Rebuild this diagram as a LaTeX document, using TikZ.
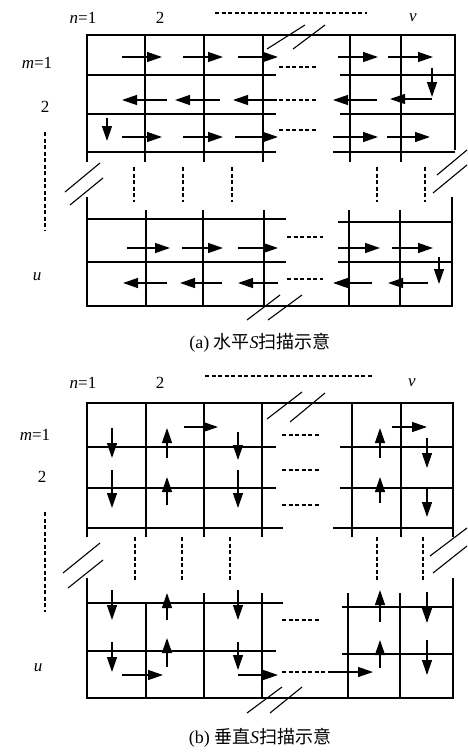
\documentclass[tikz,border=0pt]{standalone}
\usepackage{fontspec}
\setmainfont{Liberation Serif}
\newfontfamily\cjk{Noto Sans CJK SC}
\usetikzlibrary{arrows.meta}

\begin{document}
\begin{tikzpicture}[x=1pt, y=-1pt, line width=1.2pt,
  scan/.style={line width=1.3pt, -{Triangle[length=15pt,width=10pt]}},
  gap/.style={dash pattern=on 4pt off 2.5pt, line width=1.3pt},
  brk/.style={line width=1.1pt},
  lbl/.style={font=\fontsize{17}{17}\selectfont},
  captxt/.style={font=\fontsize{18}{18}\selectfont}]
  \useasboundingbox (0,0) rectangle (468,752);

  % ===== (a) horizontal S scan =====
  % frame
  \draw (87,162) -- (87,35) -- (455,35) -- (455,150);
  \draw (87,197) -- (87,306) -- (452,306) -- (452,197);
  % grid, upper block
  \foreach \y in {75,114} {\draw (87,\y) -- (276,\y); \draw (340,\y) -- (455,\y);}
  \draw (87,152) -- (276,152); \draw (333,152) -- (455,152);
  \foreach \x in {145,204,263,350,401} \draw (\x,35) -- (\x,162);
  % grid, lower block
  \draw (87,219) -- (286,219); \draw (338,222) -- (452,222);
  \draw (87,262) -- (286,262); \draw (338,262) -- (452,262);
  \foreach \x in {146,203,264,349,400} \draw (\x,210) -- (\x,306);
  % omitted parts
  \foreach \x in {134,183,232,377,425} \draw[gap] (\x,167) -- (\x,202);
  \foreach \y in {67,100,130} \draw[gap] (279,\y) -- (317,\y);
  \foreach \y in {237,279} \draw[gap] (287,\y) -- (323,\y);
  \draw[gap] (45,132) -- (45,230);
  \draw[gap] (215,13) -- (367,13);
  % breaks
  \draw[brk] (267,49) -- (305,25) (293,49) -- (325,25);
  \draw[brk] (247,320) -- (280,295) (268,320) -- (302,295);
  \draw[brk] (65,192) -- (100,163) (70,205) -- (103,178);
  \draw[brk] (437,175) -- (467,150) (433,193) -- (467,165);
  % scan path
  \foreach \a/\b in {122/162,183/223,238/278,338/378,388/433}
    \draw[scan] (\a,57) -- (\b,57);
  \draw[scan] (432,68) -- (432,97);
  \draw[scan] (432,99) -- (390,99);
  \foreach \a/\b in {167/122,220/175,277/233,377/333}
    \draw[scan] (\a,100) -- (\b,100);
  \draw[scan] (107,118) -- (107,141);
  \foreach \a/\b in {122/162,183/223,235/278,333/378,387/430}
    \draw[scan] (\a,137) -- (\b,137);
  \foreach \a/\b in {127/170,182/223,238/278,338/380,392/433}
    \draw[scan] (\a,248) -- (\b,248);
  \draw[scan] (439,257) -- (439,284);
  \foreach \a/\b in {167/123,222/180,278/238,372/333,428/388}
    \draw[scan] (\a,283) -- (\b,283);
  % labels
  \node[lbl] (an1) at (83,18) {\textit{n}=1};
  \node[lbl] (an2) at (160,18) {2};
  \node[lbl] (anv) at (413,18) {\textit{v}};
  \node[lbl] (am1) at (37,63) {\textit{m}=1};
  \node[lbl] (am2) at (45,107) {2};
  \node[lbl] (amu) at (37,277) {\textit{u}};
  \node[captxt] (capa) at (260,343) {(a) {\cjk 水平}\textit{S}{\cjk 扫描示意}};

  % ===== (b) vertical S scan =====
  % frame
  \draw (87,537) -- (87,403) -- (453,403) -- (453,537);
  \draw (87,578) -- (87,698) -- (453,698) -- (453,578);
  % grid, upper block
  \foreach \y in {447,488} {\draw (87,\y) -- (276,\y); \draw (340,\y) -- (453,\y);}
  \draw (87,528) -- (283,528); \draw (333,528) -- (453,528);
  \foreach \x in {146,204,262,352,401} \draw (\x,403) -- (\x,537);
  % grid, lower block
  \draw (87,603) -- (283,603); \draw (342,607) -- (453,607);
  \draw (87,651) -- (276,651); \draw (342,654) -- (453,654);
  \draw (146,603) -- (146,698);
  \foreach \x in {204,262,348,400} \draw (\x,593) -- (\x,698);
  % omitted parts
  \foreach \x in {135,182,230,377,423} \draw[gap] (\x,537) -- (\x,582);
  \foreach \y in {435,470,505,620} \draw[gap] (282,\y) -- (320,\y);
  \draw[gap] (45,512) -- (45,612);
  \draw[gap] (205,376) -- (372,376);
  % breaks
  \draw[brk] (267,419) -- (302,392) (290,422) -- (325,393);
  \draw[brk] (247,713) -- (282,687) (270,713) -- (302,687);
  \draw[brk] (63,573) -- (100,543) (68,588) -- (103,560);
  \draw[brk] (430,556) -- (467,528) (433,573) -- (467,546);
  % scan path
  \draw[scan] (112,428) -- (112,458);
  \draw[scan] (112,470) -- (112,508);
  \draw[scan] (167,505) -- (167,477);
  \draw[scan] (167,458) -- (167,428);
  \draw[scan] (184,427) -- (218,427);
  \draw[scan] (238,432) -- (238,460);
  \draw[scan] (238,470) -- (238,508);
  \draw[scan] (380,458) -- (380,428);
  \draw[scan] (380,503) -- (380,477);
  \draw[scan] (392,427) -- (427,427);
  \draw[scan] (427,438) -- (427,468);
  \draw[scan] (427,487) -- (427,517);
  \draw[scan] (112,590) -- (112,620);
  \draw[scan] (112,642) -- (112,672);
  \draw[scan] (122,675) -- (163,675);
  \draw[scan] (167,667) -- (167,638);
  \draw[scan] (167,620) -- (167,593);
  \draw[scan] (238,590) -- (238,620);
  \draw[scan] (238,642) -- (238,670);
  \draw[scan] (238,675) -- (278,675);
  \draw[gap] (282,672) -- (330,672);
  \draw[scan] (330,672) -- (373,672);
  \draw[scan] (380,668) -- (380,640);
  \draw[scan] (380,622) -- (380,590);
  \draw[scan] (427,592) -- (427,623);
  \draw[scan] (427,640) -- (427,675);
  % labels
  \node[lbl] (bn1) at (83,383) {\textit{n}=1};
  \node[lbl] (bn2) at (160,383) {2};
  \node[lbl] (bnv) at (412,383) {\textit{v}};
  \node[lbl] (bm1) at (35,435) {\textit{m}=1};
  \node[lbl] (bm2) at (42,477) {2};
  \node[lbl] (bmu) at (38,668) {\textit{u}};
  \node[captxt] (capb) at (260,738) {(b) {\cjk 垂直}\textit{S}{\cjk 扫描示意}};
\end{tikzpicture}
\end{document}
